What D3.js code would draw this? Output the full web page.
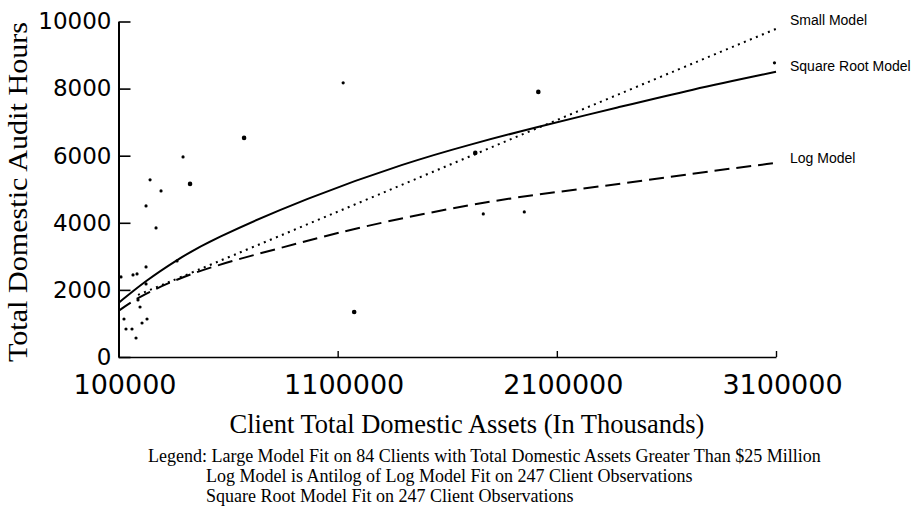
<!DOCTYPE html>
<html>
<head>
<meta charset="utf-8">
<script src="https://cdn.jsdelivr.net/npm/d3@7"></script>
<style>
  html, body { margin: 0; padding: 0; background: #fff; }
  svg { display: block; }
</style>
</head>
<body>
<svg id="chart" width="924" height="507"></svg>
<script>
// ---- data ----
const xTicks = [100000, 1100000, 2100000, 3100000];
const yTicks = [0, 2000, 4000, 6000, 8000, 10000];

// Square Root Model (solid)
const sqrtModelX = [100000, 221000, 367000, 518000, 961000, 1417000, 1719000, 1993000, 2390000, 2709000, 3100000];
const sqrtModelY = [1610, 2260, 2900, 3480, 4750, 5800, 6360, 6830, 7456, 7963, 8500];

// Log Model (dashed)
const logModelX = [100000, 189000, 394500, 622800, 869400, 1020000, 1307800, 1718700, 1992700, 2390000, 2846000, 3100000];
const logModelY = [1372, 1789, 2410, 2880, 3300, 3570, 4026, 4560, 4831, 5160, 5577, 5786];

// Small Model (dotted)
const smallModelX = [189000, 1020000, 2024000, 3100000];
const smallModelY = [1850, 4110, 6860, 9780];

// client observations
const obsX = [673000, 244000, 294000, 394500, 426500, 225600, 271200, 166200, 184500, 225600,
              225600, 189000, 198200, 125100, 134200, 161600, 179900, 207300, 230100, 367100,
              1125100, 2015500, 1727800, 1764400, 1951600, 1175400, 3093000, 111400];
const obsY = [6530, 5280, 4950, 5964, 5159, 4503, 3847, 2445, 2475, 2684,
              2177, 1700, 1491, 1133, 835, 835, 567, 1014, 1133, 2863,
              8171, 7902, 6083, 4264, 4324, 1342, 8767, 2386];
const obsBig = [1, 0, 0, 0, 1, 0, 0, 0, 0, 0,
                0, 0, 0, 0, 0, 0, 0, 0, 0, 0,
                0, 1, 1, 0, 0, 1, 0, 0];

const modelNames = ["Small Model", "Square Root Model", "Log Model"];
const modelLabelValues = [10050, 8680, 5935];
const legendLines = [
  "Legend: Large Model Fit on 84 Clients with Total Domestic Assets Greater Than $25 Million",
  "Log Model is Antilog of Log Model Fit on 247 Client Observations",
  "Square Root Model Fit on 247 Client Observations"
];
const xTitle = "Client Total Domestic Assets (In Thousands)";
const yTitle = "Total Domestic Audit Hours";

// ---- drawing ----
const svg = d3.select("#chart");
svg.append("rect").attr("width", 924).attr("height", 507).attr("fill", "#fff");

const x = d3.scaleLinear().domain([100000, 3100000]).range([118.5, 776]);
const y = d3.scaleLinear().domain([0, 10000]).range([357, 21.5]);

const serif = "'Liberation Serif', 'Times New Roman', serif";
const sans = "'Liberation Sans', Arial, sans-serif";
const tickFont = "'DejaVu Sans', sans-serif";

// y axis
const gy = svg.append("g").attr("transform", `translate(${x(100000)},0)`)
  .call(d3.axisLeft(y).tickValues(yTicks).tickFormat(d3.format("d"))
    .tickSizeInner(-12).tickSizeOuter(0).tickPadding(7));
gy.select(".domain").attr("stroke", "#000").attr("stroke-width", 2);
gy.selectAll(".tick line").attr("stroke", "#000").attr("stroke-width", 1.6);
gy.selectAll(".tick text").attr("font-family", tickFont).attr("font-size", 23).attr("fill", "#000");

// x axis
const gx = svg.append("g").attr("transform", `translate(0,${y(0)})`)
  .call(d3.axisBottom(x).tickValues(xTicks).tickFormat(d3.format("d"))
    .tickSizeInner(-6).tickSizeOuter(0).tickPadding(18));
gx.select(".domain").attr("stroke", "#000").attr("stroke-width", 1.6);
gx.selectAll(".tick line").attr("stroke", "#000").attr("stroke-width", 1.4);
gx.selectAll(".tick text").attr("font-family", tickFont).attr("font-size", 27)
  .attr("fill", "#000").attr("dx", 6);

// model curves
const line = d3.line().x(d => x(d[0])).y(d => y(d[1])).curve(d3.curveBasis);
const models = [
  { xs: smallModelX, ys: smallModelY, dash: "2,4.5", width: 2 },
  { xs: sqrtModelX, ys: sqrtModelY, dash: null, width: 2 },
  { xs: logModelX, ys: logModelY, dash: "15,7", width: 2 }
];
models.forEach(m => {
  svg.append("path")
    .datum(d3.zip(m.xs, m.ys))
    .attr("d", line)
    .attr("fill", "none")
    .attr("stroke", "#000")
    .attr("stroke-width", m.width)
    .attr("stroke-dasharray", m.dash);
});

// observations
svg.append("g").selectAll("circle")
  .data(d3.zip(obsX, obsY, obsBig))
  .join("circle")
  .attr("cx", d => x(d[0]))
  .attr("cy", d => y(d[1]))
  .attr("r", d => d[2] ? 2.3 : 1.6)
  .attr("fill", "#000");

// model labels at right end
svg.append("g").selectAll("text")
  .data(modelNames)
  .join("text")
  .attr("x", 790)
  .attr("y", (d, i) => y(modelLabelValues[i]))
  .attr("dy", "0.35em")
  .attr("font-family", sans)
  .attr("font-size", 14)
  .attr("fill", "#000")
  .text(d => d);

// axis titles
svg.append("text")
  .attr("x", 467).attr("y", 433)
  .attr("text-anchor", "middle")
  .attr("font-family", serif).attr("font-size", 26.5).attr("fill", "#000")
  .text(xTitle);

svg.append("text")
  .attr("transform", "translate(27,192) rotate(-90)")
  .attr("text-anchor", "middle")
  .attr("font-family", serif).attr("font-size", 26.5).attr("fill", "#000")
  .attr("textLength", 340).attr("lengthAdjust", "spacingAndGlyphs")
  .text(yTitle);

// legend
svg.append("g").selectAll("text")
  .data(legendLines)
  .join("text")
  .attr("x", (d, i) => i === 0 ? 148 : 206)
  .attr("y", (d, i) => 462 + i * 20)
  .attr("font-family", serif).attr("font-size", 18).attr("fill", "#000")
  .text(d => d);
</script>
</body>
</html>
